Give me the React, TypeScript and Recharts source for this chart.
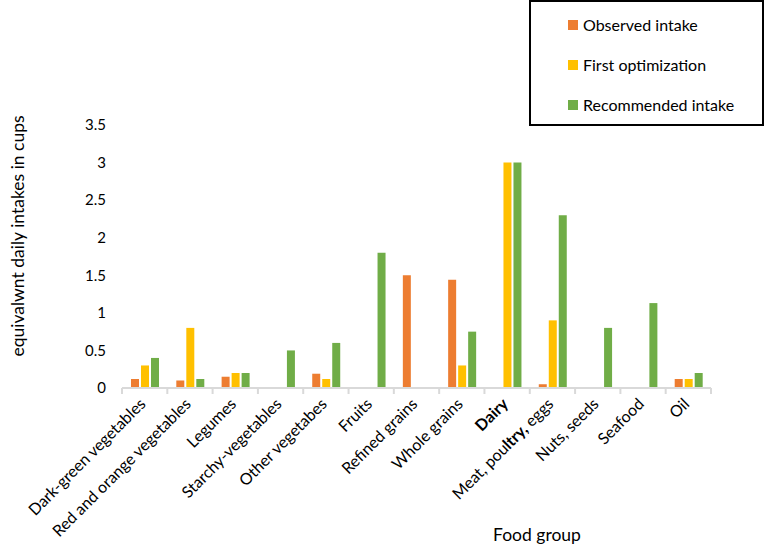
import { BarChart, Bar, XAxis, YAxis } from "recharts"

const categories = [
  "Dark-green vegetables",
  "Red and orange vegetables",
  "Legumes",
  "Starchy-vegetables",
  "Other vegetabes",
  "Fruits",
  "Refined grains",
  "Whole grains",
  "Dairy",
  "Meat, poultry, eggs",
  "Nuts, seeds",
  "Seafood",
  "Oil",
]
const observed = [0.12, 0.1, 0.15, 0, 0.19, 0, 1.5, 1.44, 0, 0.05, 0, 0, 0.12]
const firstOpt = [0.3, 0.8, 0.2, 0, 0.12, 0, 0, 0.3, 3, 0.9, 0, 0, 0.12]
const recommended = [0.4, 0.12, 0.2, 0.5, 0.6, 1.8, 0, 0.75, 3, 2.3, 0.8, 1.13, 0.2]
const yTicks = [0, 0.5, 1, 1.5, 2, 2.5, 3, 3.5]

const series = [
  { key: "observed", name: "Observed intake", color: "#ED7D31" },
  { key: "first", name: "First optimization", color: "#FFC000" },
  { key: "recommended", name: "Recommended intake", color: "#70AD47" },
]

const data = categories.map((c, i) => ({
  food: c,
  observed: observed[i],
  first: firstOpt[i],
  recommended: recommended[i],
}))

const FONT = "Lato, 'Open Sans', sans-serif"

function FoodTick(props: any) {
  const { x, y, payload, index } = props
  const half = payload?.offset ?? 22.65
  const label: string = payload.value
  let content: any = label
  if (label === "Dairy") {
    content = <tspan fontWeight="bold">Dairy</tspan>
  } else if (label === "Meat, poultry, eggs") {
    content = (
      <>
        <tspan>Meat, pou</tspan>
        <tspan fontWeight="bold">ltry,</tspan>
        <tspan> eggs</tspan>
      </>
    )
  }
  const ax = x + 2
  const ay = y + 9
  return (
    <g>
      <line x1={x - half} y1={y - 8} x2={x - half} y2={y - 2} stroke="#d9d9d9" strokeWidth={2} />
      {index === categories.length - 1 && (
        <line x1={x + half} y1={y - 8} x2={x + half} y2={y - 2} stroke="#d9d9d9" strokeWidth={2} />
      )}
      <text
        x={ax}
        y={ay}
        textAnchor="end"
        fontSize={16}
        fontFamily={FONT}
        fill="#000"
        transform={`rotate(-45 ${ax} ${ay})`}
      >
        {content}
      </text>
    </g>
  )
}

function LegendBox() {
  return (
    <div
      style={{
        position: "absolute",
        left: 529,
        top: 0,
        width: 231,
        height: 122,
        border: "2px solid #000",
        fontFamily: FONT,
        fontSize: 16,
        color: "#000",
      }}
    >
      {series.map((s, i) => (
        <div
          key={s.key}
          style={{ position: "absolute", left: 37, top: 13 + i * 40, display: "flex", alignItems: "center" }}
        >
          <span style={{ width: 10, height: 10, background: s.color, display: "inline-block", marginRight: 5 }} />
          <span>{s.name}</span>
        </div>
      ))}
    </div>
  )
}

export default function App() {
  return (
    <div style={{ position: "absolute", left: 0, top: 0, width: 769, height: 547, background: "#fff" }}>
      <BarChart
        width={769}
        height={547}
        data={data}
        margin={{ top: 125, right: 58, left: 0, bottom: 0 }}
        barGap={2}
        barSize={8}
      >
        <XAxis
          dataKey="food"
          interval={0}
          tick={<FoodTick />}
          tickLine={false}
          axisLine={{ stroke: "#d9d9d9", strokeWidth: 2 }}
          height={159}
          label={() => (
            <text x={537} y={541} textAnchor="middle" fontSize={17.5} fontFamily={FONT} fill="#000">
              Food group
            </text>
          )}
        />
        <YAxis
          width={122}
          domain={[0, 3.5]}
          ticks={yTicks}
          axisLine={false}
          tickLine={false}
          tickMargin={10}
          tick={{ fontSize: 15, fill: "#000", fontFamily: FONT }}
          label={() => (
            <text
              x={24}
              y={236}
              textAnchor="middle"
              fontSize={17.5}
              fontFamily={FONT}
              fill="#000"
              transform="rotate(-90 24 236)"
            >
              equivalwnt daily intakes in cups
            </text>
          )}
        />
        {series.map((s) => (
          <Bar key={s.key} dataKey={s.key} name={s.name} fill={s.color} isAnimationActive={false} />
        ))}
      </BarChart>
      <LegendBox />
    </div>
  )
}
